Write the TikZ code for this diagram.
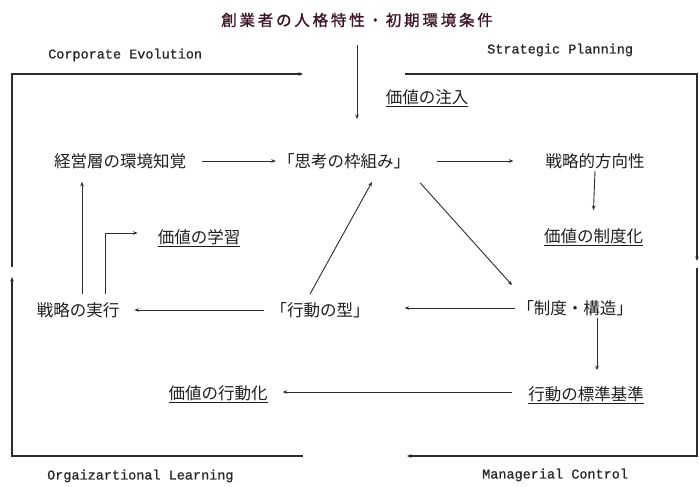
\documentclass[tikz,border=0pt]{standalone}
\usepackage{fontspec}
\usetikzlibrary{arrows.meta}
\newfontfamily\jp{Noto Sans CJK JP}
\newfontfamily\jptitle[FakeBold=1.2,LetterSpace=18]{Noto Sans CJK JP}
\newfontfamily\enmono[FakeBold=0.8]{Liberation Mono}
\definecolor{titlecol}{RGB}{62,22,40}
\definecolor{linecol}{RGB}{45,45,45}
\begin{document}
\begin{tikzpicture}[x=1pt,y=-1pt,
  jlab/.style={inner sep=2pt,font=\jp\fontsize{16.5}{19}\selectfont,text=black!88},
  elab/.style={inner sep=0pt,anchor=west,font=\enmono\fontsize{13.5}{16}\selectfont,text=black!85},
  arr/.style={draw=linecol,line width=0.9pt,-{Stealth[length=4.5pt,width=3.6pt]}},
  frame/.style={draw=linecol,line width=1.1pt},
  frarr/.style={frame,-{Stealth[length=4.5pt,width=3.6pt]}}]
\useasboundingbox[fill=white] (0,0) rectangle (699,487);

% title
\node[inner sep=2pt,font=\jptitle\fontsize{15.5}{18}\selectfont,text=titlecol] (title) at (357,20) {創業者の人格特性・初期環境条件};

% English labels
\node[elab] (ce) at (48,55) {Corporate Evolution};
\node[elab] (sp) at (487,50) {Strategic Planning};
\node[elab] (ol) at (47,476) {Orgaizartional Learning};
\node[elab] (mc) at (482,475) {Managerial Control};

% Japanese nodes
\node[jlab] (inj) at (427,98) {\underline{価値の注入}};
\node[jlab] (keiei) at (120,161) {経営層の環境知覚};
\node[jlab] (shiko) at (344,161) {「思考の枠組み」};
\node[jlab] (senryaku) at (595,161) {戦略的方向性};
\node[jlab] (seidoka) at (593.5,237) {\underline{価値の制度化}};
\node[jlab] (seido) at (575,308) {「制度・構造」};
\node[jlab] (kata) at (320,310) {「行動の型」};
\node[jlab] (jikko) at (78,310) {戦略の実行};
\node[jlab] (gakushu) at (199,238) {\underline{価値の学習}};
\node[jlab] (hyojun) at (586,395) {\underline{行動の標準基準}};
\node[jlab] (kodoka) at (218,394) {\underline{価値の行動化}};

% frame coordinates
\coordinate (T1) at (357,45);
\coordinate (T2) at (357,119);
\coordinate (L0) at (303,456);
\coordinate (L2) at (12,277);
\coordinate (L3) at (12,267);
\coordinate (L5) at (303,74);
\coordinate (R0) at (405,74);
\coordinate (R2) at (697,261);
\coordinate (R3) at (697,268);
\coordinate (R5) at (407,456);

% frame
\draw[frarr] (L0) -| (L2);
\draw[frarr] (L3) |- (L5);
\draw[frarr] (R0) -| (R2);
\draw[frarr] (R3) |- (R5);
\draw[arr] (T1) -- (T2);

% helper points
\coordinate (k1) at ([xshift=33]kata.east);
\coordinate (s1) at ([xshift=22]seido.south);
\coordinate (h1) at ([yshift=14]hyojun.north);
\coordinate (h2) at ([xshift=-14,yshift=3]hyojun.west);
\coordinate (d1) at ([xshift=13]kodoka.east);

% connectors
\draw[arr] ([xshift=14]keiei.east) -- (shiko.west);
\draw[arr] ([xshift=25]shiko.east) -- ([xshift=-30]senryaku.west);
\draw[arr] (senryaku.south) -- ([yshift=16]seidoka.north);
\draw[arr] ([xshift=8,yshift=-12]shiko.south east) -- ([xshift=-3,yshift=13]seido.north west);
\draw[arr] (seido.west) -- (seido.west -| k1);
\draw[arr] ([xshift=-10,yshift=6]kata.north) -- ([xshift=28,yshift=-11]shiko.south);
\draw[arr] ([xshift=-4]kata.west) -- ([xshift=13]jikko.east);
\draw[arr] ([xshift=4,yshift=6]jikko.north) -- ([xshift=-38,yshift=-11]keiei.south);
\draw[arr] ([xshift=27,yshift=6]jikko.north) |- ([xshift=-18,yshift=5]gakushu.west);
\draw[arr] (s1) -- (s1 |- h1);
\draw[arr] (h2) -- (h2 -| d1);
\end{tikzpicture}
\end{document}
